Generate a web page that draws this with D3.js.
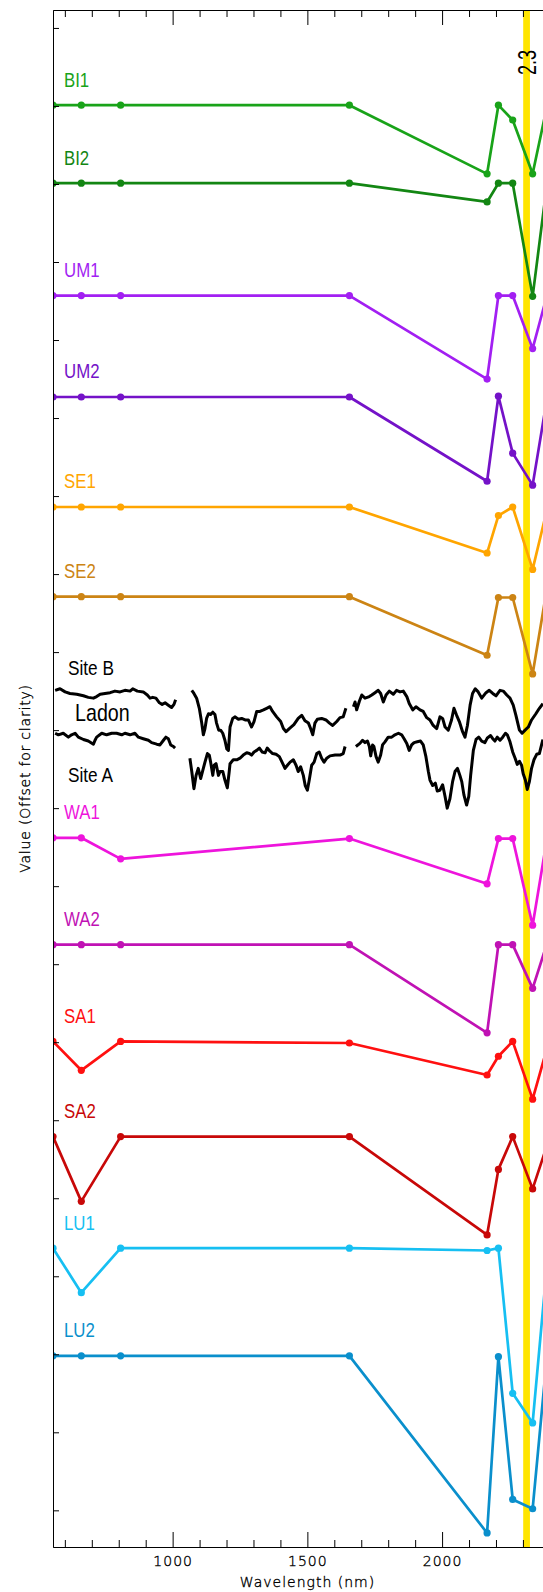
<!DOCTYPE html>
<html>
<head>
<meta charset="utf-8">
<script src="https://cdn.jsdelivr.net/npm/d3@7"></script>
<style>
body { margin: 0; background: #fff; }
.axisText { font-family: "DejaVu Sans", sans-serif; font-weight: 200; font-size: 14px; letter-spacing: 1px; fill: #000; stroke: #000; stroke-width: 0.35px; }
.label { font-family: "Liberation Sans", Arial, sans-serif; font-size: 20.5px; }
</style>
</head>
<body>
<div id="chart"></div>
<script>
// ASTER band centres (nm) used by the library spectra
var bandWl = [556, 661, 807, 1656, 2167, 2209, 2262, 2336, 2400];

var seriesNames = ["BI1", "BI2", "UM1", "UM2", "SE1", "SE2", "WA1", "WA2", "SA1", "SA2", "LU1", "LU2"];
var seriesColors = ["#19a319", "#138613", "#a21ff2", "#7412c8", "#ffa500", "#cc8414",
                    "#ee14dc", "#c012b4", "#ff1010", "#c80808", "#16bff2", "#0a8fcc"];

// values already offset for clarity (one y tick = 1 unit)
var bi1 = [18.01, 18.01, 18.01, 18.01, 17.13, 18.01, 17.82, 17.13, 18.17];
var bi2 = [17.01, 17.01, 17.01, 17.01, 16.77, 17.01, 17.01, 15.56, 17.29];
var um1 = [15.57, 15.57, 15.57, 15.57, 14.50, 15.57, 15.57, 14.89, 15.71];
var um2 = [14.27, 14.27, 14.27, 14.27, 13.19, 14.28, 13.55, 13.14, 14.47];
var se1 = [12.86, 12.86, 12.86, 12.86, 12.27, 12.75, 12.86, 12.06, 12.98];
var se2 = [11.71, 11.71, 11.71, 11.71, 10.96, 11.70, 11.70, 10.72, 12.04];
var wa1 = [8.62, 8.62, 8.35, 8.61, 8.03, 8.61, 8.61, 7.50, 8.83];
var wa2 = [7.25, 7.25, 7.25, 7.25, 6.12, 7.25, 7.25, 6.69, 7.38];
var sa1 = [6.01, 5.64, 6.01, 5.99, 5.58, 5.82, 6.01, 5.27, 6.05];
var sa2 = [4.79, 3.96, 4.79, 4.79, 3.53, 4.37, 4.79, 4.12, 4.79];
var lu1 = [3.36, 2.79, 3.36, 3.36, 3.33, 3.36, 1.50, 1.12, 3.55];
var lu2 = [1.98, 1.98, 1.98, 1.98, -0.29, 1.97, 0.14, 0.02, 2.37];
var seriesValues = [bi1, bi2, um1, um2, se1, se2, wa1, wa2, sa1, sa2, lu1, lu2];

// field spectra (null = gap)
var ladonWl = [564, 582, 601, 619, 644, 669, 687, 706, 718, 731, 749, 768, 786, 805, 823, 842, 852, 869, 891, 906,
    916, 926, 938, 951, 961, 972, 984, 996, 1005, 1011, null,
    1071, 1079, 1089, 1099, 1108, 1114, 1120, 1126, 1133, 1141, 1149, 1157, 1163, 1171, 1178, 1186, 1194, 1201, 1207, 1213,
    1223, 1231, 1244, 1256, 1269, 1281, 1293, 1302, 1312, 1324, 1337, 1349, 1361, 1371, 1386, 1401, 1411, 1421, 1433, 1450,
    1466, 1479, 1491, 1504, 1512, 1520, 1528, 1537, 1553, 1569, 1582, 1594, 1609, 1621, 1633, 1643, null,
    1671, 1677, 1683, 1693, 1702, 1714, 1730, 1739, 1751, 1763, 1772, 1782, 1792, 1804, 1819, 1831, 1844, 1856, 1869, 1878,
    1891, 1903, 1918, 1930, 1943, 1955, 1967, 1980, 1992, 2002, 2011, 2023, 2035, 2044, 2054, 2064, 2076, 2085, 2094, 2104,
    2113, 2123, 2134, 2147, 2163, 2175, 2188, 2200, 2215, 2227, 2240, 2252, 2264, 2274, 2287, 2297, 2308, 2320, 2332, 2348,
    2361, 2374];
var ladonVal = [10.51, 10.53, 10.49, 10.47, 10.46, 10.44, 10.42, 10.41, 10.43, 10.46, 10.47, 10.48, 10.50, 10.49, 10.51, 10.50, 10.53, 10.50, 10.49, 10.45,
    10.41, 10.42, 10.41, 10.35, 10.33, 10.35, 10.32, 10.29, 10.33, 10.39, null,
    10.51, 10.47, 10.41, 10.28, 10.09, 9.94, 10.02, 10.15, 10.21, 10.20, 10.23, 10.20, 10.09, 10.00, 10.00, 9.96, 9.87, 9.76, 9.74, 10.04,
    10.15, 10.17, 10.14, 10.15, 10.13, 10.13, 10.04, 10.11, 10.24, 10.24, 10.26, 10.28, 10.30, 10.24, 10.17, 10.11, 10.02, 9.98, 10.02, 10.07,
    10.15, 10.19, 10.12, 10.09, 10.02, 9.94, 10.09, 10.14, 10.15, 10.13, 10.09, 10.06, 10.11, 10.16, 10.17, 10.28, null,
    10.30, 10.36, 10.26, 10.37, 10.45, 10.41, 10.43, 10.45, 10.48, 10.51, 10.47, 10.36, 10.45, 10.50, 10.46, 10.51, 10.49, 10.50, 10.43, 10.34,
    10.26, 10.30, 10.26, 10.24, 10.16, 10.13, 10.06, 10.02, 10.17, 10.15, 10.04, 10.00, 10.13, 10.28, 10.19, 10.11, 9.98, 9.91, 10.06, 10.32,
    10.47, 10.53, 10.49, 10.41, 10.48, 10.51, 10.47, 10.44, 10.51, 10.50, 10.45, 10.41, 10.32, 10.19, 10.00, 9.96, 10.00, 10.04, 10.13, 10.21,
    10.28, 10.34];

var siteAWl = [564, 576, 594, 613, 625, 638, 650, 669, 687, 706, 712, 718, 737, 755, 774, 792, 811, 823, 842, 860,
    873, 891, 910, 922, 941, 953, 966, 975, 984, 993, 1003, 1009, null,
    1064, 1071, 1079, 1087, 1095, 1104, 1111, 1120, 1129, 1136, 1141, 1149, 1154, 1161, 1170, 1176, 1186, 1194, 1203, 1210,
    1213, 1225, 1238, 1250, 1262, 1275, 1285, 1293, 1302, 1312, 1322, 1332, 1343, 1351, 1361, 1371, 1384, 1396, 1406, 1417,
    1426, 1436, 1448, 1458, 1466, 1475, 1485, 1492, 1500, 1507, 1516, 1525, 1535, 1544, 1553, 1562, 1572, 1584, 1603, 1621,
    1633, 1640, null,
    1680, 1695, 1705, 1714, 1723, 1730, 1735, 1742, 1747, 1755, 1763, 1772, 1779, 1788, 1800, 1813, 1825, 1838, 1850, 1859,
    1869, 1878, 1887, 1896, 1908, 1920, 1930, 1940, 1949, 1955, 1965, 1975, 1982, 1992, 2002, 2011, 2019, 2029, 2039, 2048,
    2057, 2066, 2073, 2081, 2091, 2099, 2106, 2116, 2126, 2136, 2147, 2159, 2168, 2180, 2188, 2196, 2205, 2215, 2225, 2235,
    2242, 2252, 2262, 2271, 2279, 2287, 2295, 2301, 2309, 2316, 2324, 2332, 2341, 2351, 2361, 2374];
var siteAVal = [9.96, 9.94, 9.96, 9.91, 9.94, 9.96, 9.91, 9.88, 9.86, 9.82, 9.87, 9.91, 9.96, 9.94, 9.96, 9.96, 9.94, 9.96, 9.94, 9.96,
    9.91, 9.89, 9.87, 9.84, 9.82, 9.81, 9.87, 9.91, 9.89, 9.81, 9.79, 9.77, null,
    9.64, 9.47, 9.25, 9.42, 9.51, 9.38, 9.47, 9.59, 9.70, 9.68, 9.59, 9.42, 9.55, 9.57, 9.42, 9.47, 9.47, 9.36, 9.26, 9.47,
    9.57, 9.62, 9.62, 9.64, 9.68, 9.71, 9.70, 9.68, 9.72, 9.74, 9.77, 9.72, 9.71, 9.77, 9.73, 9.70, 9.69, 9.66, 9.59, 9.51,
    9.55, 9.59, 9.62, 9.55, 9.47, 9.53, 9.42, 9.29, 9.23, 9.36, 9.55, 9.59, 9.70, 9.72, 9.64, 9.59, 9.64, 9.67, 9.68, 9.68,
    9.70, 9.79, null,
    9.79, 9.83, 9.87, 9.84, 9.86, 9.79, 9.67, 9.81, 9.79, 9.66, 9.59, 9.68, 9.81, 9.85, 9.91, 9.91, 9.94, 9.96, 9.94, 9.89,
    9.83, 9.74, 9.81, 9.84, 9.85, 9.86, 9.81, 9.66, 9.47, 9.36, 9.29, 9.32, 9.22, 9.23, 9.30, 9.15, 9.00, 9.12, 9.34, 9.47,
    9.51, 9.42, 9.34, 9.17, 9.04, 9.15, 9.42, 9.74, 9.88, 9.91, 9.86, 9.84, 9.90, 9.93, 9.89, 9.86, 9.91, 9.87, 9.91, 9.96,
    9.94, 9.85, 9.72, 9.64, 9.56, 9.60, 9.55, 9.44, 9.36, 9.24, 9.34, 9.51, 9.62, 9.69, 9.70, 9.88];

var spectraLabels = ["Site B", "Ladon", "Site A"];

var xMajorTicks = [1000, 1500, 2000];
var xMinorTicks = [600, 700, 800, 900, 1100, 1200, 1300, 1400, 1600, 1700, 1800, 1900, 2100, 2200, 2300, 2400];
var yTicks = [0, 1, 2, 3, 4, 5, 6, 7, 8, 9, 10, 11, 12, 13, 14, 15, 16, 17, 18, 19];

var bandRange = [2301, 2326];
var bandLabel = "2.3";
var xTitle = "Wavelength (nm)";
var yTitle = "Value (Offset for clarity)";

drawChart();

function toPoints(wl, val) {
    return wl.map(function (w, i) { return { x: w, y: val[i] }; });
}

// narrow label: horizontal squeeze since no condensed font is installed
function addLabel(svg, px, py, txt, color, size) {
    svg.append("text")
        .attr("class", "label")
        .attr("transform", "translate(" + px + "," + py + ") scale(0.82,1)")
        .attr("fill", color)
        .style("font-size", size + "px")
        .text(txt);
}

function drawChart() {
    var width = 543, height = 1592;
    var left = 53, top = 10, right = 562, bottom = 1547;

    var x = d3.scaleLinear().domain([556, 2445]).range([left, right]);
    var y = d3.scaleLinear().domain([-0.47, 19.23]).range([bottom, top]);

    var svg = d3.select("#chart").append("svg")
        .attr("width", width)
        .attr("height", height);

    svg.append("clipPath").attr("id", "plotClip")
        .append("rect")
        .attr("x", left).attr("y", top)
        .attr("width", right - left).attr("height", bottom - top);

    // yellow 2.3 um band
    svg.append("rect")
        .attr("x", x(bandRange[0]))
        .attr("y", top)
        .attr("width", x(bandRange[1]) - x(bandRange[0]))
        .attr("height", bottom - top)
        .attr("fill", "#ffe500");

    var plot = svg.append("g").attr("clip-path", "url(#plotClip)");

    var line = d3.line()
        .defined(function (d) { return d.y != null; })
        .x(function (d) { return x(d.x); })
        .y(function (d) { return y(d.y); });

    // library spectra
    seriesValues.forEach(function (vals, i) {
        var pts = toPoints(bandWl, vals);
        plot.append("path")
            .datum(pts)
            .attr("fill", "none")
            .attr("stroke", seriesColors[i])
            .attr("stroke-width", 2.7)
            .attr("stroke-linejoin", "round")
            .attr("d", line);
        plot.selectAll(".dot" + i)
            .data(pts)
            .enter().append("circle")
            .attr("class", "dot" + i)
            .attr("cx", function (d) { return x(d.x); })
            .attr("cy", function (d) { return y(d.y); })
            .attr("r", 3.6)
            .attr("fill", seriesColors[i]);
        addLabel(svg, 64, y(vals[0]) - 18.5, seriesNames[i], seriesColors[i], 20.5);
    });

    // field spectra
    [toPoints(ladonWl, ladonVal), toPoints(siteAWl, siteAVal)].forEach(function (pts) {
        plot.append("path")
            .datum(pts)
            .attr("fill", "none")
            .attr("stroke", "#000")
            .attr("stroke-width", 3)
            .attr("stroke-linejoin", "round")
            .attr("d", line);
    });

    addLabel(svg, 68, 675, spectraLabels[0], "#000", 21);
    addLabel(svg, 75, 721, spectraLabels[1], "#000", 24);
    addLabel(svg, 68, 782, spectraLabels[2], "#000", 21);

    svg.append("text")
        .attr("class", "label")
        .attr("transform", "translate(535.5,62.5) rotate(-90) scale(0.72,1)")
        .attr("text-anchor", "middle")
        .style("font-size", "25px")
        .text(bandLabel);

    // bottom axis
    svg.append("g")
        .attr("transform", "translate(0," + bottom + ")")
        .call(d3.axisBottom(x).tickValues(xMinorTicks).tickSizeInner(-7).tickSizeOuter(0).tickFormat(""));
    var bAxis = svg.append("g")
        .attr("transform", "translate(0," + bottom + ")")
        .call(d3.axisBottom(x).tickValues(xMajorTicks).tickSizeInner(-15).tickSizeOuter(0)
            .tickPadding(9).tickFormat(d3.format("d")));
    bAxis.selectAll("text").attr("class", "axisText");
    bAxis.attr("font-size", null).attr("font-family", null);

    // top axis
    svg.append("g")
        .attr("transform", "translate(0," + top + ")")
        .call(d3.axisTop(x).tickValues(xMinorTicks).tickSizeInner(-7).tickSizeOuter(0).tickFormat(""));
    svg.append("g")
        .attr("transform", "translate(0," + top + ")")
        .call(d3.axisTop(x).tickValues(xMajorTicks).tickSizeInner(-15).tickSizeOuter(0).tickFormat(""));

    // left axis
    svg.append("g")
        .attr("transform", "translate(" + left + ",0)")
        .call(d3.axisLeft(y).tickValues(yTicks).tickSizeInner(-6).tickSizeOuter(0).tickFormat(""));

    svg.append("text")
        .attr("class", "axisText")
        .attr("x", (left + right) / 2)
        .attr("y", 1587)
        .attr("text-anchor", "middle")
        .text(xTitle);

    svg.append("text")
        .attr("class", "axisText")
        .attr("transform", "translate(29.5," + (top + bottom) / 2 + ") rotate(-90)")
        .attr("text-anchor", "middle")
        .style("letter-spacing", "0.8px")
        .text(yTitle);
}
</script>
</body>
</html>
